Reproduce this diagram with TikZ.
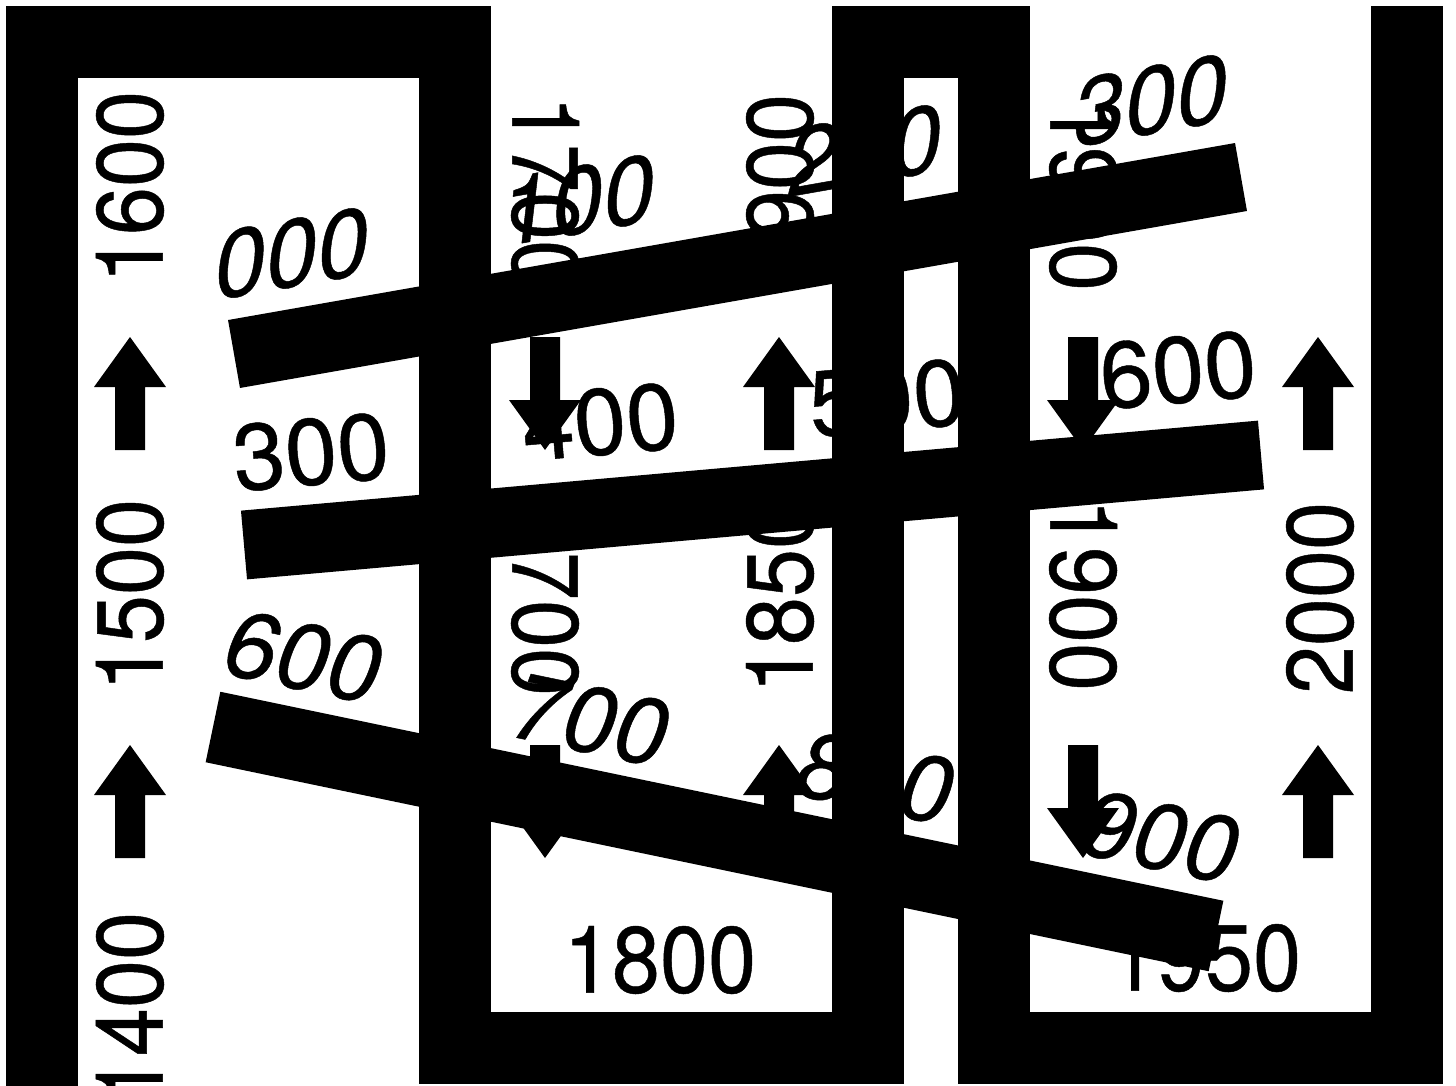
\documentclass[tikz,border=0pt]{standalone}
\usepackage{fontspec}
\newfontfamily\yrfont{TeX Gyre Heros}[FakeBold=0.5]
\usetikzlibrary{positioning}
\tikzset{
  every node/.style={font=\yrfont\fontsize{47}{50}\selectfont,inner sep=0pt,text=black},
  wall/.style={draw=black,line width=36pt,line join=miter},
  band/.style={draw=black,line width=34.5pt},
  upyear/.style={rotate=90,xscale=0.92},
  downyear/.style={rotate=-90,xscale=0.92},
  flatyear/.style={xscale=0.92},
  tickA/.style={rotate=10,xslant=0.3},
  tickB/.style={rotate=5},
  tickC/.style={rotate=-11.7,xslant=0.15},
  arrowfill/.style={fill=black}
}
\begin{document}
\begin{tikzpicture}[x=0.5pt,y=-0.5pt]
  \fill[white] (0,0) rectangle (1456,1086);
  \useasboundingbox (0,0) rectangle (1456,1086);

  % serpentine wall
  \draw[wall] (42,1086) -- (42,42) -- (455,42) -- (455,1048) -- (868,1048)
    -- (868,42) -- (994,42) -- (994,1048) -- (1407,1048) -- (1407,6);

  % slanted bands
  \coordinate (b1w) at (234,354);   \coordinate (b1e) at (1241,177);
  \coordinate (b2w) at (244,545);   \coordinate (b2e) at (1261,455);
  \coordinate (b3w) at (213,727);   \coordinate (b3e) at (1216,936);
  \draw[band] (b1w) -- (b1e);
  \draw[band] (b2w) -- (b2e);
  \draw[band,line width=36pt] (b3w) -- (b3e);

  % years along the columns
  \node[upyear] (y1600) at (130,187) {1600};
  \node[upyear] (y1500) at (130,595) {1500};
  \node[upyear] (y1400) at (130,1008) {1400};
  \node[downyear] (y1700a) at (545,192) {1700};
  \node[downyear] (y1700b) at (545,600) {1700};
  \node[upyear] (y1900a) at (780,190) {1900};
  \node[upyear] (y1850) at (780,597) {1850};
  \node[downyear] (y1900b) at (1083,195) {1900};
  \node[downyear] (y1900c) at (1083,595) {1900};
  \node[upyear] (y2000) at (1320,598) {2000};
  \node[flatyear] (y1800) at (660,960) {1800};
  \node[flatyear] (y1950) at (1205,958) {1950};

  % direction arrows
  \foreach \ax/\ay in {130/450,130/858,779/450,779/858,1318/450,1318/858}
    \fill[arrowfill] (\ax,\ay) ++(-15,0) -- ++(0,-63) -- ++(-21,0) -- ++(36,-50)
      -- ++(36,50) -- ++(-21,0) -- ++(0,63) -- cycle;
  \foreach \ax/\ay in {545/337,545/745,1083/337,1083/745}
    \fill[arrowfill] (\ax,\ay) ++(-15,0) -- ++(0,63) -- ++(-21,0) -- ++(36,50)
      -- ++(36,-50) -- ++(-21,0) -- ++(0,-63) -- cycle;

  % scale ticks over the bands
  \node[tickA] (t000) at (293,253) {000};
  \node[tickA] (t100) at (579,200) {100};
  \node[tickA] (t200) at (866,150) {200};
  \node[tickA] (t300a) at (1152,100) {300};
  \node[tickB] (t300b) at (311,452) {300};
  \node[tickB] (t400) at (600,422) {400};
  \node[tickB] (t500) at (887,398) {500};
  \node[tickB] (t600a) at (1178,370) {600};
  \node[tickC] (t600b) at (305,657) {600};
  \node[tickC] (t700) at (592,720) {700};
  \node[tickC] (t800) at (877,778) {800};
  \node[tickC] (t900) at (1162,837) {900};
\end{tikzpicture}
\end{document}
